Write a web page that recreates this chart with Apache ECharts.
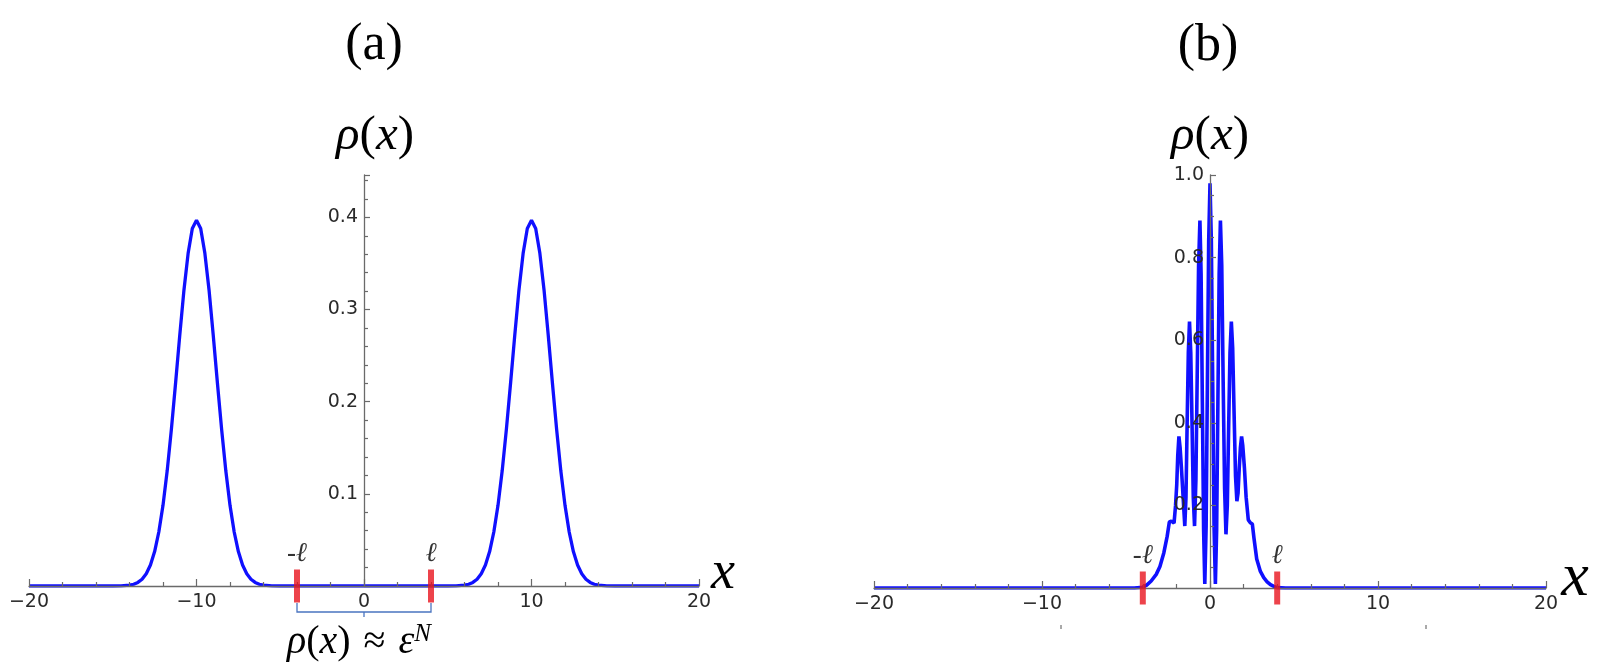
<!DOCTYPE html>
<html><head><meta charset="utf-8">
<script src="https://cdn.jsdelivr.net/npm/echarts@6/dist/echarts.min.js"></script>
<style>html,body{margin:0;padding:0;background:#fff}#c{width:1604px;height:664px}</style>
</head><body><div id="c"></div>
<script>
// ---------- data ----------
// panel (a): two separated peaks
const xA = [-20, -15, -14.5, -14, -13.75, -13.5, -13.25, -13, -12.75, -12.5, -12.25, -12, -11.75, -11.5, -11.25, -11, -10.75, -10.5, -10.25, -10,
  -9.75, -9.5, -9.25, -9, -8.75, -8.5, -8.25, -8, -7.75, -7.5, -7.25, -7, -6.75, -6.5, -6.25, -6, -5.5, -5,
  5, 5.5, 6, 6.25, 6.5, 6.75, 7, 7.25, 7.5, 7.75, 8, 8.25, 8.5, 8.75, 9, 9.25, 9.5, 9.75, 10,
  10.25, 10.5, 10.75, 11, 11.25, 11.5, 11.75, 12, 12.25, 12.5, 12.75, 13, 13.25, 13.5, 13.75, 14, 14.5, 15, 20];
const rhoA = [0, 0, 0.0002, 0.0009, 0.0019, 0.0039, 0.0073, 0.0132, 0.0227, 0.0374, 0.0586, 0.0875, 0.125, 0.170, 0.220, 0.272, 0.321, 0.361, 0.388, 0.397,
  0.388, 0.361, 0.321, 0.272, 0.220, 0.170, 0.125, 0.0875, 0.0586, 0.0374, 0.0227, 0.0132, 0.0073, 0.0039, 0.0019, 0.0009, 0.0002, 0,
  0, 0.0002, 0.0009, 0.0019, 0.0039, 0.0073, 0.0132, 0.0227, 0.0374, 0.0586, 0.0875, 0.125, 0.170, 0.220, 0.272, 0.321, 0.361, 0.388, 0.397,
  0.388, 0.361, 0.321, 0.272, 0.220, 0.170, 0.125, 0.0875, 0.0586, 0.0374, 0.0227, 0.0132, 0.0073, 0.0039, 0.0019, 0.0009, 0.0002, 0, 0];
// panel (b): oscillating central density
const xB = [-20, -4.5, -4.0, -3.77, -3.5, -3.2, -2.98, -2.75, -2.55, -2.42, -2.3, -2.14, -2.05, -1.98, -1.92, -1.85, -1.78, -1.70, -1.60, -1.50,
  -1.43, -1.36, -1.29, -1.22, -1.145, -1.07, -0.995, -0.92, -0.84, -0.76, -0.68, -0.60, -0.53, -0.455, -0.38, -0.31, -0.23, -0.155, -0.078, 0,
  0.08, 0.16, 0.24, 0.32, 0.395, 0.47, 0.545, 0.62, 0.70, 0.78, 0.87, 0.95, 1.03, 1.11, 1.19, 1.27, 1.35, 1.43, 1.52, 1.60,
  1.67, 1.74, 1.81, 1.88, 1.95, 2.05, 2.15, 2.28, 2.40, 2.52, 2.62, 2.78, 3.0, 3.2, 3.4, 3.6, 3.8, 4.0, 4.5, 20];
const rhoB = [0, 0, 0.002, 0.007, 0.017, 0.033, 0.052, 0.085, 0.125, 0.16, 0.162, 0.157, 0.2, 0.25, 0.32, 0.367, 0.34, 0.29, 0.22, 0.15,
  0.22, 0.40, 0.57, 0.645, 0.57, 0.40, 0.22, 0.15, 0.26, 0.52, 0.78, 0.89, 0.76, 0.45, 0.14, 0.01, 0.15, 0.50, 0.84, 0.98,
  0.84, 0.50, 0.15, 0.01, 0.14, 0.45, 0.76, 0.89, 0.78, 0.51, 0.24, 0.13, 0.20, 0.39, 0.57, 0.645, 0.58, 0.43, 0.27, 0.21,
  0.23, 0.29, 0.34, 0.367, 0.345, 0.29, 0.22, 0.165, 0.158, 0.155, 0.12, 0.07, 0.04, 0.025, 0.015, 0.008, 0.004, 0.001, 0, 0];
const ellMarks = [-4, 4];
const ellLabels = ['-\u2113', '\u2113'];
const xTicks = [-20, -10, 0, 10, 20];
const yTicksA = [0.1, 0.2, 0.3, 0.4];
const yTicksB = [0.2, 0.4, 0.6, 0.8, 1.0];
const panelTitles = ['(a)', '(b)'];

// ---------- build ----------
const zip = (xs, ys) => xs.map((x, i) => [x, ys[i]]);
const AX = '#6a6a6a', LBL = '#2a2a2a';
const minus = v => (v < 0 ? '\u2212' + (-v) : String(v));
const gridA = { left: 29, width: 670, top: 175, height: 411 };
const gridB = { left: 874, width: 672, top: 175, height: 413 };
function xAxisCfg(gi) {
  return {
    type: 'value', gridIndex: gi, min: -20, max: 20, interval: 10, z: 4,
    axisLine: { onZero: false, lineStyle: { color: AX, width: 1.3 } },
    axisTick: { inside: true, length: 7, lineStyle: { color: AX, width: 1.2 } },
    minorTick: { show: true, splitNumber: 5, length: 4, lineStyle: { color: AX, width: 1.2 } },
    splitLine: { show: false }, minorSplitLine: { show: false },
    axisLabel: { show: false }
  };
}
// y axis sits on x = 0: shift it from the grid's left edge by half the grid width
function yAxisCfg(gi, grid, max, interval, split) {
  return {
    type: 'value', gridIndex: gi, min: 0, max: max, interval: interval, z: 4,
    offset: -grid.width / 2,
    axisLine: { onZero: false, lineStyle: { color: AX, width: 1.3 } },
    axisTick: { inside: true, length: 6, lineStyle: { color: AX, width: 1.2 } },
    minorTick: { show: true, splitNumber: split, length: 4, lineStyle: { color: AX, width: 1.2 } },
    splitLine: { show: false }, minorSplitLine: { show: false },
    axisLabel: { show: false }
  };
}
function ellSeries(gi) {
  return {
    type: 'scatter', xAxisIndex: gi, yAxisIndex: gi, clip: false, z: 6,
    data: ellMarks.map(v => [v, 0]),
    symbol: 'rect', symbolSize: [6, 33],
    itemStyle: { color: '#e8141e' },
    label: {
      show: true, position: 'top', distance: 2,
      formatter: p => ellLabels[p.dataIndex],
      fontFamily: 'Liberation Serif', fontStyle: 'italic', fontSize: 27, color: '#000'
    },
    silent: true
  };
}
const serif = 'Liberation Serif';
const rhoRich = { i: { fontFamily: serif, fontStyle: 'italic', fontSize: 49, fill: '#000' } };

const chart = echarts.init(document.getElementById('c'), null, { renderer: 'canvas' });
chart.setOption({
  animation: false,
  backgroundColor: '#fff',
  grid: [gridA, gridB],
  xAxis: [xAxisCfg(0), xAxisCfg(1)],
  yAxis: [yAxisCfg(0, gridA, 0.446, 0.1, 5), yAxisCfg(1, gridB, 1.0, 0.2, 4)],
  series: [
    { type: 'line', xAxisIndex: 0, yAxisIndex: 0, data: zip(xA, rhoA), showSymbol: false, symbol: 'none',
      lineStyle: { color: '#1010ff', width: 3.3 }, z: 3 },
    { type: 'line', xAxisIndex: 1, yAxisIndex: 1, data: zip(xB, rhoB), showSymbol: false, symbol: 'none',
      lineStyle: { color: '#1010ff', width: 3.6 }, z: 3 },
    ellSeries(0), ellSeries(1),
    { type: 'custom', xAxisIndex: 0, yAxisIndex: 0, clip: false, silent: true, z: 5,
      data: [[ellMarks[0], ellMarks[1]]], encode: { x: [0, 1] },
      renderItem: (params, api) => {
        const a = api.coord([api.value(0), 0]);
        const b = api.coord([api.value(1), 0]);
        const m = api.coord([(api.value(0) + api.value(1)) / 2, 0]);
        const st = { stroke: '#4a74c0', lineWidth: 1.3, fill: null };
        return { type: 'group', children: [
          { type: 'polyline', shape: { points: [[a[0], a[1] + 17], [a[0], a[1] + 26], [b[0], b[1] + 26], [b[0], b[1] + 17]] }, style: st },
          { type: 'line', shape: { x1: m[0], y1: m[1] + 26, x2: m[0], y2: m[1] + 31 }, style: st }
        ] };
      }
    }
  ]
});

// tick labels placed with the axes' own scales (convertToPixel)
const tickFont = { fontFamily: 'DejaVu Sans', fontSize: 19, fill: LBL };
const tickTexts = [];
[0, 1].forEach(gi => {
  xTicks.forEach(v => {
    const p = chart.convertToPixel({ gridIndex: gi }, [v, 0]);
    tickTexts.push({ type: 'text', z: 10, x: p[0], y: p[1] + 7,
      style: Object.assign({ text: minus(v), align: 'center', verticalAlign: 'top' }, tickFont) });
  });
  (gi === 0 ? yTicksA : yTicksB).forEach(v => {
    const p = chart.convertToPixel({ gridIndex: gi }, [0, v]);
    tickTexts.push({ type: 'text', z: 10, x: p[0] - 6, y: p[1],
      style: Object.assign({ text: v.toFixed(1), align: 'right', verticalAlign: 'middle' }, tickFont) });
  });
});

chart.setOption({
  graphic: tickTexts.concat([
    { type: 'text', x: 374, y: 45, style: { text: panelTitles[0], fontFamily: serif, fontSize: 52, fill: '#000', align: 'center', verticalAlign: 'middle' } },
    { type: 'text', x: 1208, y: 46, style: { text: panelTitles[1], fontFamily: serif, fontSize: 52, fill: '#000', align: 'center', verticalAlign: 'middle' } },
    { type: 'text', x: 375, y: 136, style: { text: '{i|\u03c1}({i|x})', fontFamily: serif, fontSize: 49, fill: '#000', align: 'center', verticalAlign: 'middle', rich: rhoRich } },
    { type: 'text', x: 1210, y: 136, style: { text: '{i|\u03c1}({i|x})', fontFamily: serif, fontSize: 49, fill: '#000', align: 'center', verticalAlign: 'middle', rich: rhoRich } },
    { type: 'text', x: 723, y: 574, style: { text: 'x', fontFamily: serif, fontStyle: 'italic', fontSize: 54, fill: '#000', align: 'center', verticalAlign: 'middle' } },
    { type: 'text', x: 1575, y: 579, style: { text: 'x', fontFamily: serif, fontStyle: 'italic', fontSize: 62, fill: '#000', align: 'center', verticalAlign: 'middle' } },
    { type: 'text', x: 359, y: 642, style: {
      text: '{i|\u03c1}({i|x}){a|\u2248}{i|\u03b5}{s|N}', fontFamily: serif, fontSize: 40, fill: '#000', align: 'center', verticalAlign: 'middle',
      rich: { i: { fontFamily: serif, fontStyle: 'italic', fontSize: 40, fill: '#000' },
              a: { fontFamily: serif, fontSize: 40, fill: '#000', padding: [0, 13, 0, 13] },
              s: { fontFamily: serif, fontStyle: 'italic', fontSize: 25, fill: '#000', verticalAlign: 'top' } } } },
    { type: 'line', shape: { x1: 1061, y1: 625, x2: 1061, y2: 629 }, style: { stroke: '#555', lineWidth: 1 } },
    { type: 'line', shape: { x1: 1426, y1: 625, x2: 1426, y2: 629 }, style: { stroke: '#555', lineWidth: 1 } }
  ])
});
</script></body></html>
